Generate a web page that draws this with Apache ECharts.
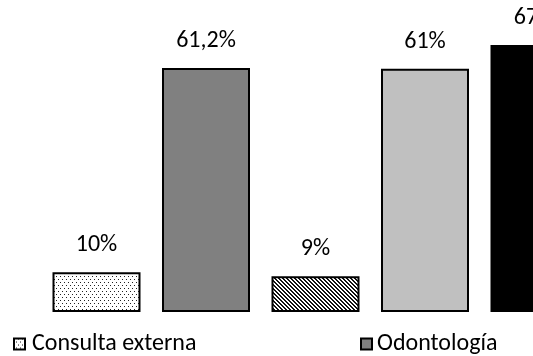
<!DOCTYPE html>
<html>
<head>
<meta charset="utf-8">
<script src="https://cdn.jsdelivr.net/npm/echarts@6/dist/echarts.min.js"></script>
<style>
html,body{margin:0;padding:0;background:#fff;}
#main{width:533px;height:356px;}
</style>
</head>
<body>
<div id="main"></div>
<script>
// datos
var categorias = ['Consulta externa', 'Odontología', 'Serie 3', 'Serie 4', 'Serie 5', 'Serie 6'];
var valores = [10, 61.2, 9, 61, 67, null];
var leyenda = ['Consulta externa', 'Odontología'];

// tramas de relleno
function tramaPuntos() {
    var c = document.createElement('canvas');
    c.width = 4; c.height = 6;
    var ctx = c.getContext('2d');
    ctx.fillStyle = '#fff';
    ctx.fillRect(0, 0, 4, 6);
    ctx.fillStyle = '#222';
    ctx.fillRect(0, 0, 1, 1);
    ctx.fillRect(2, 3, 1, 1);
    return c;
}
function tramaRayas() {
    var c = document.createElement('canvas');
    c.width = 4; c.height = 4;
    var ctx = c.getContext('2d');
    ctx.fillStyle = '#fff';
    ctx.fillRect(0, 0, 4, 4);
    ctx.fillStyle = '#111';
    for (var i = 0; i < 4; i++) {
        ctx.fillRect(i, i, 1, 1);
        ctx.fillRect((i + 1) % 4, i, 1, 1);
    }
    return c;
}

var rellenos = [
    {image: tramaPuntos(), repeat: 'repeat'},
    '#808080',
    {image: tramaRayas(), repeat: 'repeat'},
    '#c0c0c0',
    '#000000',
    '#ffffff'
];

var fuente = 'Carlito, Lato, sans-serif';

var series = [];
for (var i = 0; i < categorias.length; i++) {
    var d = [];
    for (var j = 0; j < categorias.length; j++) {
        d.push(j == i && valores[i] != null ? valores[i] : '-');
    }
    series.push({
        name: categorias[i],
        type: 'bar',
        stack: 'todo',
        barWidth: 88,
        data: d,
        itemStyle: {color: rellenos[i], borderColor: '#000', borderWidth: 2},
        label: {
            show: true,
            position: 'top',
            distance: 15,
            color: '#000',
            fontFamily: fuente,
            fontSize: 24,
            formatter: function (p) {
                return String(p.value).replace('.', ',') + '%';
            }
        }
    });
}

var chart = echarts.init(document.getElementById('main'));
chart.setOption({
    backgroundColor: '#fff',
    animation: false,
    grid: {left: 41.75, width: 657, top: 33, bottom: 44, outerBoundsMode: 'none', containLabel: false},
    xAxis: {
        type: 'category',
        data: categorias,
        show: false
    },
    yAxis: {
        type: 'value',
        min: 0,
        max: 70,
        show: false
    },
    legend: [
        {data: [leyenda[0]], left: 13, top: 332, padding: 0, icon: 'rect', itemWidth: 11, itemHeight: 11, itemGap: 0,
         itemStyle: {borderColor: '#000', borderWidth: 2},
         textStyle: {fontFamily: fuente, fontSize: 24, color: '#000', padding: [0, 0, 0, 2]}},
        {data: [leyenda[1]], left: 360, top: 332, padding: 0, icon: 'rect', itemWidth: 11, itemHeight: 11, itemGap: 0,
         itemStyle: {borderColor: '#000', borderWidth: 2},
         textStyle: {fontFamily: fuente, fontSize: 24, color: '#000', padding: [0, 0, 0, 0]}}
    ],
    series: series
});
</script>
</body>
</html>
